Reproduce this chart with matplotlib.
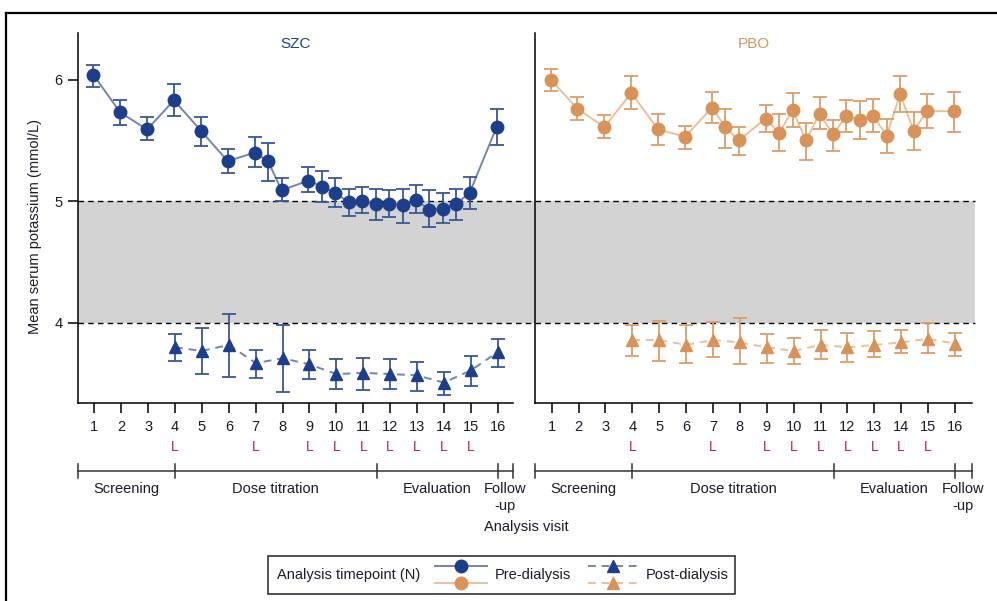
import numpy as np
import matplotlib
matplotlib.use('Agg')
import matplotlib.pyplot as plt
from matplotlib.lines import Line2D
from matplotlib.patches import Rectangle
from matplotlib.transforms import blended_transform_factory

plt.rcParams['font.family'] = ['Liberation Sans', 'DejaVu Sans']

# =============================================================================
# Data: mean serum potassium (mmol/L) with 95% CI per analysis visit
# =============================================================================

visits = list(range(1, 17))
lido_visits = [4, 7, 9, 10, 11, 12, 13, 14, 15]

pre_visits = [1, 2, 3, 4, 5, 6, 7, 7.5, 8, 9, 9.5, 10, 10.5, 11, 11.5,
              12, 12.5, 13, 13.5, 14, 14.5, 15, 16]
post_visits = [4, 5, 6, 7, 8, 9, 10, 11, 12, 13, 14, 15, 16]

# SZC
szc_pre = [6.04, 5.73, 5.59, 5.83, 5.58, 5.33, 5.40, 5.33, 5.09, 5.17, 5.12, 5.07,
           4.99, 5.00, 4.98, 4.98, 4.97, 5.01, 4.93, 4.94, 4.98, 5.07, 5.61]
szc_pre_lo = [5.94, 5.63, 5.50, 5.70, 5.45, 5.23, 5.28, 5.17, 5.00, 5.08, 4.99, 4.95,
              4.88, 4.90, 4.85, 4.87, 4.82, 4.90, 4.79, 4.82, 4.85, 4.94, 5.46]
szc_pre_hi = [6.12, 5.83, 5.69, 5.96, 5.69, 5.43, 5.53, 5.48, 5.19, 5.28, 5.25, 5.19,
              5.10, 5.12, 5.10, 5.09, 5.10, 5.13, 5.09, 5.07, 5.10, 5.20, 5.76]
szc_post = [3.80, 3.77, 3.82, 3.67, 3.71, 3.66, 3.58, 3.59, 3.58, 3.57, 3.51, 3.61, 3.76]
szc_post_lo = [3.69, 3.58, 3.56, 3.55, 3.43, 3.54, 3.46, 3.45, 3.46, 3.44, 3.41, 3.48, 3.64]
szc_post_hi = [3.91, 3.96, 4.07, 3.78, 3.98, 3.78, 3.70, 3.71, 3.70, 3.68, 3.60, 3.73, 3.87]

# PBO
pbo_pre = [6.00, 5.76, 5.61, 5.89, 5.59, 5.53, 5.77, 5.61, 5.50, 5.68, 5.56, 5.75,
           5.50, 5.72, 5.55, 5.70, 5.67, 5.70, 5.54, 5.88, 5.58, 5.74, 5.74]
pbo_pre_lo = [5.91, 5.67, 5.52, 5.76, 5.46, 5.43, 5.64, 5.44, 5.38, 5.57, 5.41, 5.61,
              5.34, 5.59, 5.41, 5.57, 5.51, 5.57, 5.40, 5.73, 5.42, 5.60, 5.57]
pbo_pre_hi = [6.09, 5.86, 5.71, 6.03, 5.72, 5.62, 5.90, 5.76, 5.61, 5.79, 5.72, 5.89,
              5.64, 5.86, 5.67, 5.83, 5.82, 5.84, 5.68, 6.03, 5.73, 5.88, 5.90]
pbo_post = [3.86, 3.86, 3.82, 3.86, 3.84, 3.80, 3.77, 3.82, 3.80, 3.82, 3.84, 3.87, 3.83]
pbo_post_lo = [3.73, 3.69, 3.67, 3.72, 3.66, 3.67, 3.66, 3.70, 3.68, 3.72, 3.75, 3.75, 3.73]
pbo_post_hi = [3.98, 4.02, 3.98, 4.01, 4.04, 3.91, 3.88, 3.94, 3.92, 3.93, 3.94, 4.00, 3.92]

# study phases: (label, start, end); None = axis edge
phases = [('Screening', None, 4), ('Dose titration', 4, 11.5),
          ('Evaluation', 11.5, 16), ('Follow\n-up', 16, None)]

# =============================================================================
# Style
# =============================================================================

W, H = 997, 601
navy, navy_line, navy_err = '#1d3f8b', '#7384b4', '#3a5696'
orng, orng_line, orng_err = '#d8935a', '#ebbf98', '#dd9e68'
txt = '#1a1a2a'
red = '#c8203c'


def fx(p):
    return p / W


def fy(p):
    return 1 - p / H


fig = plt.figure(figsize=(W / 100, H / 100), dpi=100)
ax1 = fig.add_axes([fx(78), fy(403.3), fx(513 - 78), (403.3 - 32.7) / H])
ax2 = fig.add_axes([fx(535), fy(403.3), fx(971.7 - 535), (403.3 - 32.7) / H])


def draw_panel(ax, pre, pre_lo, pre_hi, post, post_lo, post_hi, cm, cl, ce):
    xp = np.array(pre_visits) - 0.04
    xq = np.array(post_visits, dtype=float)
    pre, pre_lo, pre_hi = map(np.array, (pre, pre_lo, pre_hi))
    post, post_lo, post_hi = map(np.array, (post, post_lo, post_hi))

    ax.plot(xp, pre, color=cl, lw=1.4, zorder=2)
    ax.errorbar(xp, pre, yerr=[pre - pre_lo, pre_hi - pre], fmt='none',
                ecolor=ce, elinewidth=1.3, capsize=5, capthick=1.3, zorder=3)
    ax.plot(xp, pre, 'o', color=cm, ms=9, mec=cm, zorder=4)

    ax.plot(xq, post, color=cl, lw=1.4, ls=(0, (4, 3)), zorder=2)
    ax.errorbar(xq, post, yerr=[post - post_lo, post_hi - post], fmt='none',
                ecolor=ce, elinewidth=1.3, capsize=5, capthick=1.3, zorder=3)
    ax.plot(xq, post, '^', color=cm, ms=9, mec=cm, zorder=4)


draw_panel(ax1, szc_pre, szc_pre_lo, szc_pre_hi, szc_post, szc_post_lo, szc_post_hi,
           navy, navy_line, navy_err)
draw_panel(ax2, pbo_pre, pbo_pre_lo, pbo_pre_hi, pbo_post, pbo_post_lo, pbo_post_hi,
           orng, orng_line, orng_err)

limits = {ax1: (0.39, 16.57), ax2: (0.38, 16.62)}
band_end = {ax1: (535 - 78) / (513 - 78), ax2: (975 - 535) / (971.7 - 535)}

for ax, title, tcol in [(ax1, 'SZC', navy), (ax2, 'PBO', orng)]:
    ax.set_xlim(*limits[ax])
    ax.set_ylim(3.34, 6.385)
    ax.axhspan(4, 5, xmin=0, xmax=band_end[ax], color='#d2d3d2', lw=0,
               clip_on=False, zorder=0)
    for yv in (4, 5):
        ax.axhline(yv, xmin=0, xmax=band_end[ax], color='black', lw=1,
                   ls=(0, (4, 3)), clip_on=False, zorder=1)
    for s in ('top', 'right'):
        ax.spines[s].set_visible(False)
    ax.spines['left'].set_linewidth(1.1)
    ax.spines['bottom'].set_linewidth(1.1)
    ax.set_xticks(visits)
    ax.set_xticklabels([str(v) for v in visits])
    ax.tick_params(axis='x', length=7, width=1.1, pad=5, labelsize=10.5,
                   labelcolor=txt)
    ax.text(0.5, 0.9695, title, transform=ax.transAxes, ha='center', va='center',
            fontsize=11, color=tcol)

    tr = blended_transform_factory(ax.transData, fig.transFigure)
    # L markers below the visit numbers
    for v in lido_visits:
        ax.text(v, fy(447), 'L', transform=tr, ha='center', va='center',
                fontsize=10, color=red)
    # phase bar
    x0, x1 = limits[ax]
    ax.plot([x0, x1], [fy(471), fy(471)], color='#333333', lw=1.1,
            transform=tr, clip_on=False)
    for b in [x0, 4, 11.5, 16, x1]:
        ax.plot([b, b], [fy(464), fy(478)], color='#333333', lw=1.1,
                transform=tr, clip_on=False)
    for lab, a, b in phases:
        a = x0 if a is None else a
        b = x1 if b is None else b
        ax.text((a + b) / 2, fy(482), lab, transform=tr, ha='center', va='top',
                fontsize=10.5, color=txt, linespacing=1.25, multialignment='center')

ax1.set_yticks([4, 5, 6])
ax1.tick_params(axis='y', length=7, width=1.1, pad=4, labelsize=10.5, labelcolor=txt)
ax1.set_ylabel('Mean serum potassium (mmol/L)', fontsize=10.5, color=txt)
ax1.yaxis.set_label_coords((42 - 78) / 435, (403.3 - 226) / 370.6)
ax2.tick_params(axis='y', left=False, labelleft=False)

fig.text(fx(526), fy(527), 'Analysis visit', ha='center', va='center',
         fontsize=10.5, color=txt)

# legend box
fig.add_artist(Rectangle((fx(268), fy(594)), fx(735 - 268), (594 - 556) / H,
                         transform=fig.transFigure, fill=False, ec='#333333', lw=1.2))
fig.text(fx(277), fy(575), 'Analysis timepoint (N)', ha='left', va='center',
         fontsize=10.5, color=txt)
for yy, cm, cl in [(566, navy, navy_line), (583, orng, orng_line)]:
    fig.add_artist(Line2D([fx(435), fx(487)], [fy(yy), fy(yy)], color=cl, lw=1.4,
                          transform=fig.transFigure))
    fig.add_artist(Line2D([fx(461)], [fy(yy)], marker='o', ms=9, color=cm,
                          transform=fig.transFigure))
    fig.add_artist(Line2D([fx(588), fx(638)], [fy(yy), fy(yy)], color=cl, lw=1.4,
                          ls=(0, (4, 3)), transform=fig.transFigure))
    fig.add_artist(Line2D([fx(613)], [fy(yy)], marker='^', ms=9, color=cm,
                          transform=fig.transFigure))
fig.text(fx(495), fy(575), 'Pre-dialysis', ha='left', va='center', fontsize=10.5, color=txt)
fig.text(fx(646), fy(575), 'Post-dialysis', ha='left', va='center', fontsize=10.5, color=txt)

# outer frame
fig.add_artist(Line2D([fx(6), fx(6)], [0, fy(13)], color='black', lw=1.6,
                      transform=fig.transFigure))
fig.add_artist(Line2D([fx(6), 1], [fy(13), fy(13)], color='black', lw=1.6,
                      transform=fig.transFigure))

fig.savefig('out.png', dpi=100)
